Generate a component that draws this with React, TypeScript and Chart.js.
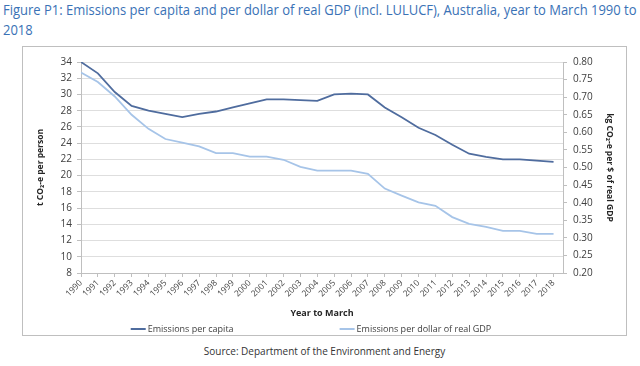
import React, { useEffect, useLayoutEffect, useRef } from "react";
import { Chart, registerables } from "chart.js";

Chart.register(...registerables);

const years = [
  1990, 1991, 1992, 1993, 1994, 1995, 1996, 1997, 1998, 1999,
  2000, 2001, 2002, 2003, 2004, 2005, 2006, 2007, 2008, 2009,
  2010, 2011, 2012, 2013, 2014, 2015, 2016, 2017, 2018,
];

const perCapita = [
  34.0, 32.6, 30.3, 28.6, 28.0, 27.6, 27.2, 27.6, 27.9, 28.4,
  28.9, 29.4, 29.4, 29.3, 29.2, 30.0, 30.1, 30.0, 28.4, 27.2,
  25.9, 25.0, 23.8, 22.7, 22.3, 22.0, 22.0, 21.85, 21.7,
];

const perGdp = [
  0.770, 0.743, 0.702, 0.650, 0.610, 0.581, 0.571, 0.560, 0.541, 0.541,
  0.531, 0.531, 0.522, 0.502, 0.491, 0.491, 0.491, 0.482, 0.440, 0.420,
  0.401, 0.391, 0.359, 0.340, 0.331, 0.320, 0.320, 0.311, 0.311,
];

const seriesLabels = ["Emissions per capita", "Emissions per dollar of real GDP"];
const titleLines = [
  "Figure P1: Emissions per capita and per dollar of real GDP (incl. LULUCF), Australia, year to March 1990 to",
  "2018",
];
const sourceText = "Source: Department of the Environment and Energy";
const xTitle = "Year to March";
const yLeftTitle = "t CO\u2082-e per person";
const yRightTitle = "kg CO\u2082-e per $ of real GDP";

const FONT = '"Open Sans", "Noto Sans", sans-serif';
const DARK = "#4f6c9e";
const LIGHT = "#a6c4e8";
const TEXT = "#404040";

const legendPlugin = {
  id: "excelLegend",
  afterDraw(chart: any) {
    const { ctx, chartArea } = chart;
    const y = chartArea.bottom + 56;
    ctx.save();
    ctx.font = `9px ${FONT}`;
    ctx.textBaseline = "middle";
    ctx.textAlign = "left";
    const lineW = 15;
    const gapText = 2;
    const gap = 106;
    const items = chart.data.datasets.map((d: any) => ({
      label: d.label,
      color: d.borderColor,
      w: lineW + gapText + ctx.measureText(d.label).width,
    }));
    const total = items.reduce((s: number, it: any) => s + it.w, 0) + gap * (items.length - 1);
    let x = (chartArea.left + chartArea.right) / 2 - total / 2 - 11;
    for (const it of items) {
      ctx.strokeStyle = it.color;
      ctx.lineWidth = 2;
      ctx.beginPath();
      ctx.moveTo(x, y);
      ctx.lineTo(x + lineW, y);
      ctx.stroke();
      ctx.fillStyle = TEXT;
      ctx.fillText(it.label, x + lineW + gapText, y);
      x += it.w + gap;
    }
    ctx.restore();
  },
};

export default function App() {
  const canvasRef = useRef<HTMLCanvasElement | null>(null);
  const l1Ref = useRef<HTMLSpanElement | null>(null);
  const l2Ref = useRef<HTMLSpanElement | null>(null);

  useLayoutEffect(() => {
    const l1 = l1Ref.current;
    const l2 = l2Ref.current;
    if (l1 && l2) {
      const w = l1.offsetWidth;
      const k = w > 0 ? 634 / w : 1;
      l1.style.transform = `scaleX(${k})`;
      l2.style.transform = `scaleX(${k})`;
    }
  }, []);

  useEffect(() => {
    const canvas = canvasRef.current;
    if (!canvas) return;
    const chart = new Chart(canvas, {
      type: "line",
      data: {
        datasets: [
          {
            label: seriesLabels[0],
            data: years.map((yr, i) => ({ x: yr, y: perCapita[i] })),
            borderColor: DARK,
            backgroundColor: DARK,
            borderWidth: 1.8,
            pointRadius: 0,
            tension: 0,
            yAxisID: "y",
          },
          {
            label: seriesLabels[1],
            data: years.map((yr, i) => ({ x: yr, y: perGdp[i] })),
            borderColor: LIGHT,
            backgroundColor: LIGHT,
            borderWidth: 1.8,
            pointRadius: 0,
            tension: 0,
            yAxisID: "y1",
          },
        ],
      },
      options: {
        animation: false,
        responsive: false,
        devicePixelRatio: 1,
        layout: { padding: { top: 15, left: 10, right: 10, bottom: 16 } },
        plugins: {
          legend: { display: false },
          tooltip: { enabled: false },
        },
        scales: {
          x: {
            type: "linear",
            min: years[0],
            max: years[years.length - 1] + 0.56,
            afterFit: (s: any) => {
              s.height = 46;
            },
            ticks: {
              stepSize: 1,
              includeBounds: false,
              autoSkip: false,
              maxRotation: 45,
              minRotation: 45,
              padding: 1,
              color: TEXT,
              font: { family: FONT, size: 8.5 },
              callback: (v: any) => String(v),
            },
            grid: { drawOnChartArea: false, color: "#bfbfbf", tickLength: 4 },
            border: { color: "#bfbfbf" },
            title: {
              display: true,
              text: xTitle,
              color: "#262626",
              padding: 0,
              font: { family: FONT, size: 9, weight: "bold" },
            },
          },
          y: {
            position: "left",
            min: 8,
            max: 34,
            afterFit: (s: any) => {
              s.width = 48;
            },
            ticks: {
              stepSize: 2,
              padding: 5,
              color: TEXT,
              font: { family: FONT, size: 10 },
            },
            grid: { color: "#dedede", tickLength: 4, tickColor: "#bfbfbf" },
            border: { color: "#bfbfbf" },
            title: {
              display: true,
              text: yLeftTitle,
              color: "#262626",
              padding: { top: 2, bottom: 0 },
              font: { family: FONT, size: 8.5, weight: "bold" },
            },
          },
          y1: {
            position: "right",
            min: 0.2,
            max: 0.8,
            afterFit: (s: any) => {
              s.width = 53;
            },
            ticks: {
              stepSize: 0.05,
              padding: 6,
              color: TEXT,
              font: { family: FONT, size: 10 },
              callback: (v: any) => Number(v).toFixed(2),
            },
            grid: { drawOnChartArea: false, color: "#bfbfbf", tickLength: 4 },
            border: { color: "#bfbfbf" },
            title: {
              display: true,
              text: yRightTitle,
              color: "#262626",
              padding: { top: 1, bottom: 0 },
              font: { family: FONT, size: 8.5, weight: "bold" },
            },
          },
        },
      },
      plugins: [legendPlugin],
    } as any);
    return () => chart.destroy();
  }, []);

  return (
    <div
      style={{
        position: "absolute",
        left: 0,
        top: 0,
        width: 640,
        height: 366,
        background: "#ffffff",
        overflow: "hidden",
      }}
    >
      <div
        style={{
          position: "absolute",
          left: 3,
          top: 0,
          fontFamily: FONT,
          fontSize: 14,
          lineHeight: "20px",
          color: "#3a72b6",
        }}
      >
        <span ref={l1Ref} style={{ display: "inline-block", whiteSpace: "nowrap", transformOrigin: "left center" }}>
          {titleLines[0]}
        </span>
        <br />
        <span ref={l2Ref} style={{ display: "inline-block", whiteSpace: "nowrap", transformOrigin: "left center" }}>
          {titleLines[1]}
        </span>
      </div>
      <div
        style={{
          position: "absolute",
          left: 22,
          top: 46,
          width: 603,
          height: 288,
          border: "1px solid #bfbfbf",
        }}
      >
        <canvas ref={canvasRef} width={603} height={288} style={{ display: "block", width: 603, height: 288 }} />
      </div>
      <div
        style={{
          position: "absolute",
          left: 0,
          top: 343,
          width: 649,
          textAlign: "center",
          fontFamily: FONT,
          fontSize: 10,
          lineHeight: "16px",
          color: "#333333",
        }}
      >
        {sourceText}
      </div>
    </div>
  );
}
